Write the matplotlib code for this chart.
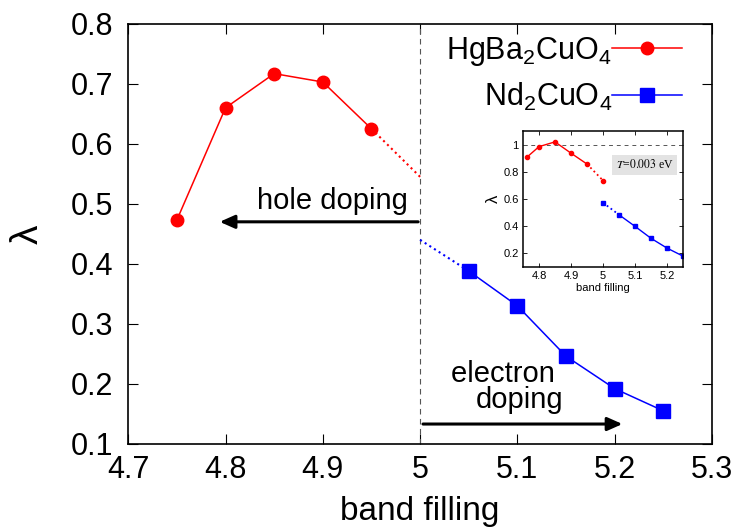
import numpy as np
import matplotlib
matplotlib.use("Agg")
import matplotlib.pyplot as plt

plt.rcParams['font.family'] = ['Liberation Sans', 'DejaVu Sans']
plt.rcParams['mathtext.fontset'] = 'custom'
plt.rcParams['mathtext.rm'] = 'Liberation Sans'
plt.rcParams['mathtext.it'] = 'Liberation Sans:italic'

# main panel data
hg_x = [4.75, 4.80, 4.85, 4.90, 4.95]
hg_y = [0.473, 0.660, 0.717, 0.703, 0.625]
hg_dot_x = [4.95, 5.00]
hg_dot_y = [0.625, 0.545]

nd_x = [5.05, 5.10, 5.15, 5.20, 5.25]
nd_y = [0.388, 0.330, 0.246, 0.192, 0.155]
nd_dot_x = [5.00, 5.05]
nd_dot_y = [0.440, 0.388]

# inset data
in_hg_x = [4.7625, 4.80, 4.85, 4.90, 4.95]
in_hg_y = [0.908, 0.985, 1.020, 0.937, 0.857]
in_hg_dot_x = [4.95, 5.00]
in_hg_dot_y = [0.857, 0.736]
in_nd_x = [5.05, 5.10, 5.15, 5.20, 5.25]
in_nd_y = [0.484, 0.399, 0.311, 0.239, 0.180]
in_nd_dot_x = [5.00, 5.05]
in_nd_dot_y = [0.573, 0.484]

xticks = [4.7, 4.8, 4.9, 5.0, 5.1, 5.2, 5.3]
xticklabels = ['4.7', '4.8', '4.9', '5', '5.1', '5.2', '5.3']
yticks = [0.1, 0.2, 0.3, 0.4, 0.5, 0.6, 0.7, 0.8]

fig = plt.figure(figsize=(7.37, 5.29), dpi=100)
ax = fig.add_axes([0.174, 0.161, 0.792, 0.794])

ax.axvline(5.0, color='#555555', ls=(0, (5, 4)), lw=0.8)

ax.plot(hg_x, hg_y, '-o', color='red', lw=1.1, ms=9, label='HgBa$_2$CuO$_4$')
ax.plot(hg_dot_x, hg_dot_y, ':', color='red', lw=1.5)
ax.plot(nd_x, nd_y, '-s', color='blue', lw=1.1, ms=9.5, label='Nd$_2$CuO$_4$')
ax.plot(nd_dot_x, nd_dot_y, ':', color='blue', lw=1.5)

arrow = dict(arrowstyle='-|>,head_length=0.9,head_width=0.4', color='black', lw=2.2,
             shrinkA=0, shrinkB=0)
ax.annotate('', xy=(4.794, 0.47), xytext=(4.998, 0.47), arrowprops=arrow)
ax.text(4.987, 0.492, 'hole doping', fontsize=21, ha='right', va='baseline')
ax.annotate('', xy=(5.208, 0.133), xytext=(5.003, 0.133), arrowprops=arrow)
ax.text(5.147, 0.15, 'electron \ndoping', fontsize=21, ha='right', va='bottom',
        multialignment='right', linespacing=0.92)

ax.set_xlim(4.7, 5.3)
ax.set_ylim(0.1, 0.8)
ax.set_xticks(xticks)
ax.set_xticklabels(xticklabels)
ax.set_yticks(yticks)
ax.tick_params(direction='in', top=True, right=True, length=7, width=0.8, labelsize=22)
ax.tick_params(axis='x', pad=8)
ax.tick_params(axis='y', pad=11)
for s in ax.spines.values():
    s.set_linewidth(1.2)
ax.set_xlabel('band filling', fontsize=24, labelpad=8)
ax.set_ylabel('λ', fontsize=28, labelpad=18)

ax.legend(loc='upper right', bbox_to_anchor=(0.964, 0.995), markerfirst=False,
          frameon=False, fontsize=22, handlelength=2.29, handletextpad=0.0,
          labelspacing=0.41, borderaxespad=0.0, borderpad=0.3)

# inset
ins = fig.add_axes([523 / 737, 1 - 267 / 529, 160 / 737, 136 / 529])
ins.axhline(1.0, color='#555555', ls=(0, (4, 4)), lw=0.7)
ins.plot(in_hg_x, in_hg_y, '-o', color='red', lw=1.0, ms=3)
ins.plot(in_hg_dot_x, in_hg_dot_y, ':', color='red', lw=1.3)
ins.plot(in_hg_dot_x[1:], in_hg_dot_y[1:], 'o', color='red', ms=3)
ins.plot(in_nd_x, in_nd_y, '-s', color='blue', lw=1.0, ms=3.2)
ins.plot(in_nd_dot_x, in_nd_dot_y, ':', color='blue', lw=1.3)
ins.plot(in_nd_dot_x[:1], in_nd_dot_y[:1], 's', color='blue', ms=3.2)
ins.set_xlim(4.75, 5.25)
ins.set_ylim(0.1, 1.1)
ins.set_xticks([4.8, 4.9, 5.0, 5.1, 5.2])
ins.set_xticklabels(['4.8', '4.9', '5', '5.1', '5.2'])
ins.set_yticks([0.2, 0.4, 0.6, 0.8, 1.0])
ins.set_yticklabels(['0.2', '0.4', '0.6', '0.8', '1'])
ins.tick_params(direction='in', top=True, right=True, length=3, width=0.6, labelsize=8, pad=3)
for s in ins.spines.values():
    s.set_linewidth(1.1)
ins.set_xlabel('band filling', fontsize=8, labelpad=1)
ins.set_ylabel('λ', fontsize=12, labelpad=2)
ins.text(5.13, 0.85, r'$\mathit{T}$=$\mathit{0.003}$ eV', family='Liberation Serif',
         math_fontfamily='stix', fontsize=8.5, ha='center', va='center',
         bbox=dict(boxstyle='square,pad=0.3', fc='#e3e3e3', ec='none'))

fig.savefig('out.png', dpi=100)
